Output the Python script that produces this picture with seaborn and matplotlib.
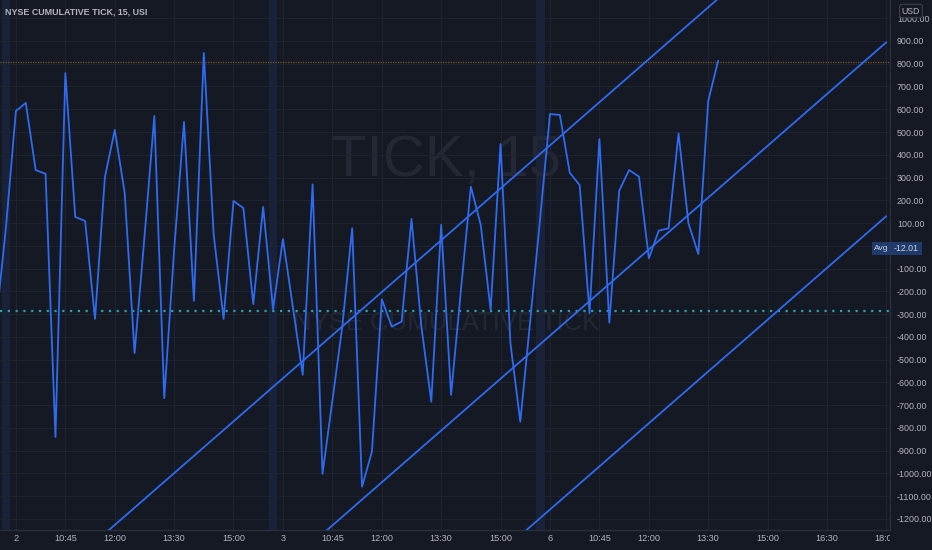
import numpy as np
import pandas as pd
import matplotlib
matplotlib.use("Agg")
import matplotlib.pyplot as plt
import seaborn as sns
from matplotlib.transforms import Bbox, TransformedBbox, blended_transform_factory
from matplotlib.patches import Rectangle

# 15-minute bars, index 0 = last bar of the previous session
bar_idx = list(range(-1, 73))
tick_vals = [-335, 83, 592, 628, 333, 316, -840, 759, 127, 109, -321, 302, 509, 232, -471,
             39, 570, -669, -18, 544, -242, 847, 48, -321, 197, 166, -256, 171, -278, 30,
             -267, -567, 270, -1002, -680, -355, 77, -1058, -904, -235, -355, -333, 118, -355,
             -685, 92, -655, -194, 260, 92, -282, 447, -427, -773, -330, 118, 579, 575, 321,
             267, -296, 469, -338, 242, 333, 304, -55, 67, 77, 494, 99, -36, 636, 813]

# parallel channel drawing (value at bar 0 and bar 89)
chan_x = [0, 89]
chan_upper = [-1643, 1730]
chan_middle = [-2479, 894]
chan_lower = [-3243, 130]

session_breaks = [0, 27, 54]
x_tick_pos = [1, 6, 11, 17, 23, 28, 33, 38, 44, 50, 55, 60, 65, 71, 77, 83, 89]
x_tick_lab = ["2", "10:45", "12:00", "13:30", "15:00", "3", "10:45", "12:00", "13:30",
              "15:00", "6", "10:45", "12:00", "13:30", "15:00", "16:30", "18:00"]
y_ticks = list(range(-1200, 1001, 100))

last_price = 808
hline_level = -286
avg_value = -12.01

bg = "#151924"
grid_c = "#1f2330"
txt_c = "#b2b5be"
blue = "#2f6bf0"

sns.set_theme(style="dark")
plt.rcParams["font.family"] = ["Liberation Sans", "DejaVu Sans"]

fig = plt.figure(figsize=(9.32, 5.5), dpi=100, facecolor=bg)
ax = fig.add_axes([0, 20 / 550, 890 / 932, 530 / 550])
ax.set_facecolor(bg)

for s in session_breaks:
    ax.axvspan(s - 0.45, s + 0.45, color="#1a2239", lw=0, zorder=0)

ax.text(44.5, 370, "TICK, 15", ha="center", va="center", fontsize=42,
        color="#242834", zorder=0.5)
ax.text(44.5, -340, "NYSE CUMULATIVE TICK", ha="center", va="center", fontsize=18.5,
        color="#242834", zorder=0.5)

ax.axhline(last_price, color="#7a5620", lw=0.9, ls=(0, (1, 1)), zorder=1)
ax.axhline(hline_level, color="#27a3ad", lw=1.6, ls=(0, (1, 2.5)), zorder=1)

df = pd.DataFrame({"bar": bar_idx, "tick": tick_vals})
sns.lineplot(data=df, x="bar", y="tick", ax=ax, color=blue, lw=1.3, zorder=3)
for vals in (chan_upper, chan_middle, chan_lower):
    sns.lineplot(x=chan_x, y=vals, ax=ax, color=blue, lw=1.3, zorder=3)

ax.set_xlim(-0.607, 89.38)
ax.set_ylim(-1248.5, 1080)
ax.set_xlabel("")
ax.set_ylabel("")

ax.set_xticks(x_tick_pos)
ax.set_xticklabels(x_tick_lab)
ax.set_yticks(y_ticks)
# the 0.00 label sits under the Avg marker on the price scale
ax.set_yticklabels(["" if v == 0 else f"{v:.2f}" for v in y_ticks])
ax.yaxis.tick_right()
ax.tick_params(axis="y", length=0, pad=5, labelsize=6.4, colors=txt_c)
ax.tick_params(axis="x", length=0, pad=3, labelsize=6.6, colors=txt_c)
for lbl in ax.get_yticklabels():
    lbl.set_horizontalalignment("left")

ax.grid(True, color=grid_c, lw=0.8)
for side in ["left", "top"]:
    ax.spines[side].set_visible(False)
for side in ["right", "bottom"]:
    ax.spines[side].set_visible(True)
    ax.spines[side].set_color("#2a2e39")
    ax.spines[side].set_linewidth(1)

fig.text(5 / 932, 1 - 12 / 550, "NYSE CUMULATIVE TICK, 15, USI", fontsize=6.4,
         fontweight="bold", color=txt_c, va="center", ha="left")

# Avg label on price scale
tr = blended_transform_factory(fig.transFigure, ax.transData)
ax.add_patch(Rectangle((872 / 932, avg_value - 28), 50 / 932, 56, transform=tr,
                       facecolor="#1f3a6b", edgecolor="none", clip_on=False, zorder=6))
ax.text(874 / 932, avg_value, "Avg", transform=tr, fontsize=6, color="#d1d4dc",
        va="center", ha="left", clip_on=False, zorder=7)
ax.text(919 / 932, avg_value, "-12.01", transform=tr, fontsize=6.3, color="#d1d4dc",
        va="center", ha="right", clip_on=False, zorder=7)

# currency box over the top of the scale
fig.text(911 / 932, 1 - 11 / 550, "USD", fontsize=6.3, color=txt_c, ha="center", va="center",
         bbox=dict(boxstyle="round,pad=0.25", fc=bg, ec="#3a3e4a", lw=0.8), zorder=8)

fig.canvas.draw()
clip = TransformedBbox(Bbox([[0, 0], [890 / 932, 1]]), fig.transFigure)
for lbl in ax.get_xticklabels():
    lbl.set_clip_box(clip)
    lbl.set_clip_on(True)

fig.savefig("out.png", dpi=100, facecolor=bg)
